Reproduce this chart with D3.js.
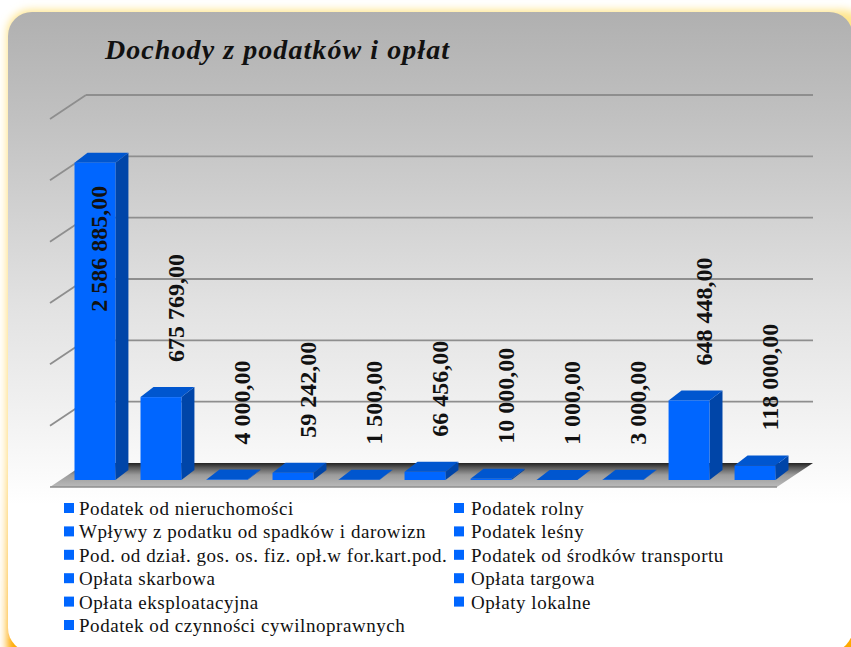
<!DOCTYPE html>
<html>
<head>
<meta charset="utf-8">
<script src="https://cdn.jsdelivr.net/npm/d3@7"></script>
<style>
  html, body { margin: 0; padding: 0; background: #fff; overflow: hidden; }
  text { font-family: "Liberation Serif", serif; fill: #111; }
</style>
</head>
<body>
<div id="chart"></div>
<script>
const chart_title = 'Dochody z podatków i opłat'

const categories = [
  'Podatek od nieruchomości',
  'Podatek rolny',
  'Wpływy z podatku od spadków i darowizn',
  'Podatek leśny',
  'Pod. od dział. gos. os. fiz. opł.w for.kart.pod.',
  'Podatek od środków transportu',
  'Opłata skarbowa',
  'Opłata targowa',
  'Opłata eksploatacyjna',
  'Opłaty lokalne',
  'Podatek od czynności cywilnoprawnych'
]

const values = [2586885, 675769, 4000, 59242, 1500, 66456, 10000, 1000, 3000, 648448, 118000]

const grid_ticks = [0, 500000, 1000000, 1500000, 2000000, 2500000, 3000000]

const width = 851,
      height = 647,
      barDx = 13, barDy = -10,   // depth of a bar
      wallDx = 36, wallDy = -24  // depth of the floor

var svg = d3.select('#chart').append('svg')
  .attr('width', width)
  .attr('height', height)
  .style('display', 'block')

var defs = svg.append('defs')

function vertical(id, stops, y1, y2) {
  var g = defs.append('linearGradient').attr('id', id)
    .attr('gradientUnits', 'userSpaceOnUse')
    .attr('x1', 0).attr('x2', 0).attr('y1', y1).attr('y2', y2)
  stops.forEach(function(s) {
    g.append('stop').attr('offset', s[0]).attr('stop-color', s[1])
  })
}

vertical('panelFill', [[0, '#b0b0b0'], [0.2, '#c0c0c0'], [0.58, '#e2e2e2'], [0.8, '#f2f2f2'], [0.97, '#ffffff'], [1, '#ffffff']], 12, 520)
vertical('glowFill', [[0, '#ffe58c'], [0.7, '#ffd870'], [1, '#ffa800']], 10, 650)
vertical('floorFill', [[0, '#222222'], [0.2, '#5a5a5a'], [0.5, '#9c9c9c'], [1, '#bababa']], 463, 487)

defs.append('filter').attr('id', 'glow')
  .attr('x', '-5%').attr('y', '-5%').attr('width', '110%').attr('height', '110%')
  .append('feGaussianBlur').attr('stdDeviation', 4.5)

// page and rounded panel
svg.append('rect').attr('x', 7).attr('y', 10).attr('width', 860).attr('height', 660)
  .attr('rx', 24).attr('fill', 'url(#glowFill)').attr('filter', 'url(#glow)')
svg.append('rect').attr('x', 8).attr('y', 12).attr('width', 845).attr('height', 640)
  .attr('rx', 24).attr('fill', 'url(#panelFill)')

svg.append('text')
  .attr('x', 105).attr('y', 59)
  .attr('font-size', 28).attr('font-weight', 'bold').attr('font-style', 'italic')
  .attr('textLength', 344).attr('lengthAdjust', 'spacing')
  .text(chart_title)

// scales: wall is the back plane, bars stand on a plane a bit nearer
var x = d3.scaleBand().domain(categories).range([74.5, 775.5]).paddingInner(0.38)
var wallY = d3.scaleLinear().domain([0, 3000000]).range([463, 95])
var barY = d3.scaleLinear().domain([0, 3000000]).range([480, 112])

var locale = d3.formatLocale({decimal: ',', thousands: ' ', grouping: [3], currency: ['', ' zł']})
var fmt = locale.format(',.2f')

// gridlines and the short lines going to the front left
var grid = svg.append('g').attr('stroke', '#8e8e8e').attr('fill', 'none').attr('stroke-width', 1.8)
grid.selectAll('.back').data(grid_ticks.slice(1)).enter().append('line')
  .attr('x1', 86).attr('x2', 813)
  .attr('y1', d => wallY(d)).attr('y2', d => wallY(d))
grid.selectAll('.side').data(grid_ticks.slice(1)).enter().append('line')
  .attr('x1', 86).attr('x2', 86 - wallDx)
  .attr('y1', d => wallY(d)).attr('y2', d => wallY(d) - wallDy)

// floor
var x0 = 86, x1 = 813, y0 = wallY(0)
svg.append('polygon')
  .attr('points', [[x0, y0], [x1, y0], [x1 - wallDx, y0 - wallDy], [x0 - wallDx, y0 - wallDy]].join(' '))
  .attr('fill', 'url(#floorFill)')
svg.append('line')
  .attr('x1', x0 - wallDx).attr('x2', x1 - wallDx)
  .attr('y1', y0 - wallDy).attr('y2', y0 - wallDy)
  .attr('stroke', '#8e8e8e').attr('stroke-width', 1.6)

// bars
var bars = svg.selectAll('.bar').data(categories).enter().append('g').attr('class', 'bar')

bars.append('polygon') // side
  .attr('fill', '#0045a8')
  .attr('points', function(d, i) {
    var l = x(d), r = l + x.bandwidth(), t = barY(values[i]), b = barY(0)
    return [[r, b], [r + barDx, b + barDy], [r + barDx, t + barDy], [r, t]].join(' ')
  })
bars.append('polygon') // top
  .attr('fill', '#0056cf')
  .attr('points', function(d, i) {
    var l = x(d), r = l + x.bandwidth(), t = barY(values[i])
    return [[l, t], [r, t], [r + barDx, t + barDy], [l + barDx, t + barDy]].join(' ')
  })
bars.append('rect') // front
  .attr('fill', '#0066ff')
  .attr('x', d => x(d))
  .attr('width', x.bandwidth())
  .attr('y', (d, i) => barY(values[i]))
  .attr('height', (d, i) => barY(0) - barY(values[i]))

// value labels, rotated; the tallest one does not fit above its bar
var labels = svg.selectAll('.value').data(categories).enter().append('text')
  .attr('class', 'value')
  .attr('font-size', 24)
  .attr('font-weight', 'bold')
  .attr('transform', function(d, i) {
    var t = barY(values[i]),
        inside = values[i] > 2000000,
        yy = inside ? t + 149 : t - 35,
        xx = x(d) + x.bandwidth() / 2 + (inside ? 12 : 23)
    return 'translate(' + xx + ',' + yy + ') rotate(-90)'
  })
  .text((d, i) => fmt(values[i]))

// legend, two columns filled row by row
var legend = svg.selectAll('.legend').data(categories).enter().append('g')
  .attr('class', 'legend')
  .attr('transform', function(d, i) {
    var rowY = d3.scaleLinear().domain([0, 5]).range([509, 626])
    return 'translate(' + (i % 2 ? 454 : 64) + ',' + rowY(Math.floor(i / 2)) + ')'
  })
legend.append('rect')
  .attr('x', 0).attr('y', -6).attr('width', 10).attr('height', 10)
  .attr('fill', '#0066ff')
legend.append('text')
  .attr('x', (d, i) => i % 2 ? 17 : 15)
  .attr('y', 6)
  .attr('font-size', 19)
  .attr('letter-spacing', 0.55)
  .attr('fill', '#222')
  .text(d => d)
</script>
</body>
</html>
